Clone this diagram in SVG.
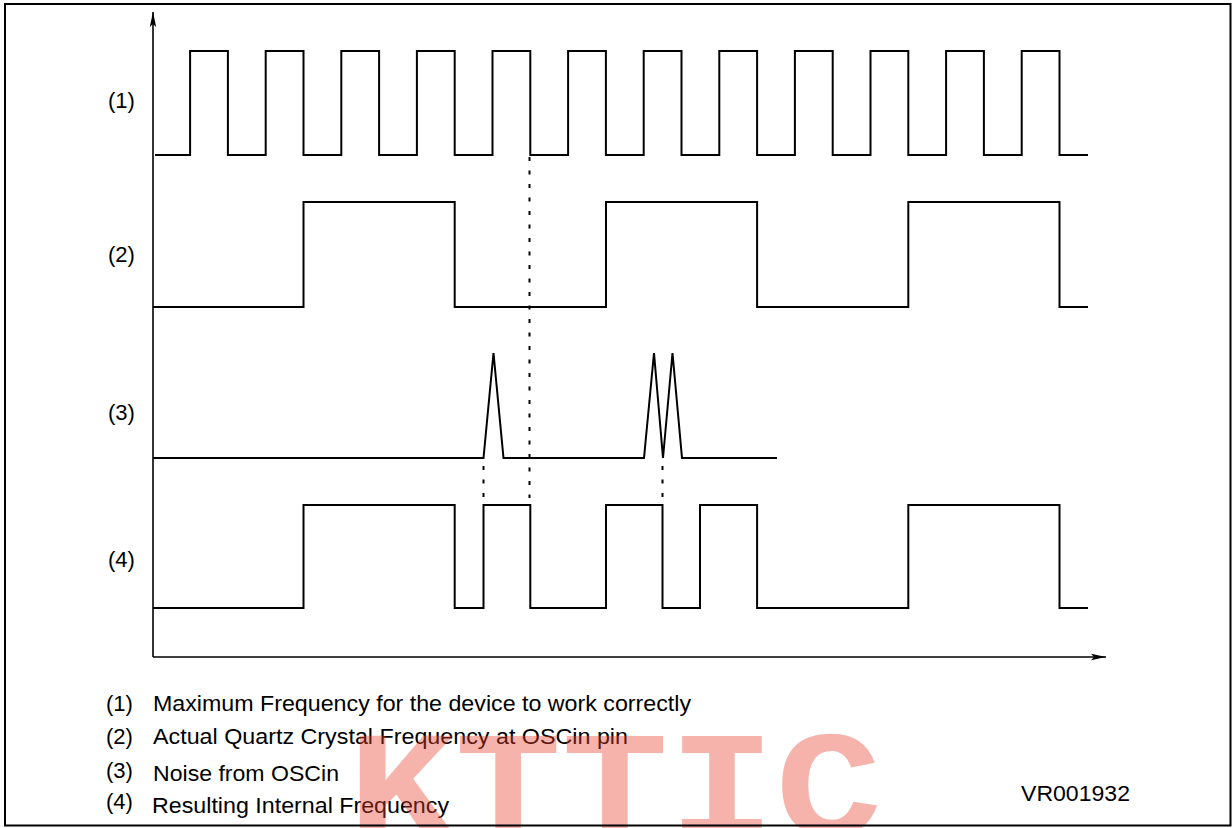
<svg xmlns="http://www.w3.org/2000/svg" width="1232" height="828" viewBox="0 0 1232 828">
<defs>
<style>
.w{fill:none;stroke:#000;stroke-width:2;stroke-linejoin:miter;stroke-linecap:butt}
.ax{fill:none;stroke:#000;stroke-width:1.6}
.dot{fill:none;stroke:#000;stroke-width:2;stroke-dasharray:4 9.5}
.t{font-family:"Liberation Sans",Arial,sans-serif;font-size:22px;fill:#000}
.wm{font-family:"Liberation Mono","Courier New",monospace;font-size:178px;font-weight:bold;fill:#e8402e;fill-opacity:0.4}
</style>
<marker id="ah" viewBox="0 0 16 8" refX="15" refY="4" markerWidth="16" markerHeight="8" markerUnits="userSpaceOnUse" orient="auto">
<path d="M0,0.8 L15,4 L0,7.2 L3,4 Z" fill="#000"/>
</marker>
</defs>
<rect x="0" y="0" width="1232" height="828" fill="#fff"/>
<g id="connectors">
<line class="ax" x1="153" y1="657" x2="153" y2="12" marker-end="url(#ah)"/>
<line class="ax" x1="153" y1="657" x2="1106" y2="657" marker-end="url(#ah)"/>
<line class="dot" x1="529.5" y1="157" x2="529.5" y2="498"/>
<line class="dot" x1="483.5" y1="466" x2="483.5" y2="498"/>
<line class="dot" x1="662.5" y1="466" x2="662.5" y2="498"/>
</g>
<g id="wave1">
<path class="w" d="M155,155 H190.1 V51 H227.9 V155 H265.7 V51 H303.5 V155 H341.3 V51 H379.1 V155 H416.9 V51 H454.7 V155 H492.5 V51 H530.3 V155 H568.1 V51 H605.9 V155 H643.7 V51 H681.5 V155 H719.3 V51 H757.1 V155 H794.9 V51 H832.7 V155 H870.5 V51 H908.3 V155 H946.1 V51 H983.9 V155 H1021.7 V51 H1059.5 V155 H1088"/>
<text class="t" x="108" y="108">(1)</text>
</g>
<g id="wave2">
<path class="w" d="M153,307 H303.5 V202 H454.7 V307 H606 V202 H757.1 V307 H908.3 V202 H1059.5 V307 H1088"/>
<text class="t" x="108" y="262">(2)</text>
</g>
<g id="wave3">
<path class="w" d="M153,458 H483.5 L493.5,353 L503.5,458 H644 L654,353 L663,458 L672.5,353 L682,458 H777"/>
<text class="t" x="108" y="420">(3)</text>
</g>
<g id="wave4">
<path class="w" d="M153,608 H303.5 V505 H454.7 V608 H483.5 V505 H530.3 V608 H606 V505 H662.5 V608 H700 V505 H757.1 V608 H908.3 V505 H1059.5 V608 H1088"/>
<text class="t" x="108" y="567">(4)</text>
</g>
<g id="legend">
<text class="t" x="106" y="711">(1)</text>
<text class="t" x="153" y="711" textLength="538" lengthAdjust="spacingAndGlyphs">Maximum Frequency for the device to work correctly</text>
<text class="t" x="106" y="744">(2)</text>
<text class="t" x="153" y="744" textLength="475" lengthAdjust="spacingAndGlyphs">Actual Quartz Crystal Frequency at OSCin pin</text>
<text class="t" x="106" y="778">(3)</text>
<text class="t" x="153" y="781" textLength="186" lengthAdjust="spacingAndGlyphs">Noise from OSCin</text>
<text class="t" x="106" y="809">(4)</text>
<text class="t" x="152" y="813" textLength="297" lengthAdjust="spacingAndGlyphs">Resulting Internal Frequency</text>
<text class="t" x="1021" y="801" textLength="109" lengthAdjust="spacingAndGlyphs">VR001932</text>
</g>
<text class="wm" transform="translate(348,836) scale(1,0.86)" x="0" y="0">KTTIC</text>
<rect x="5" y="4" width="1225.5" height="821.5" fill="none" stroke="#000" stroke-width="2"/>
</svg>
